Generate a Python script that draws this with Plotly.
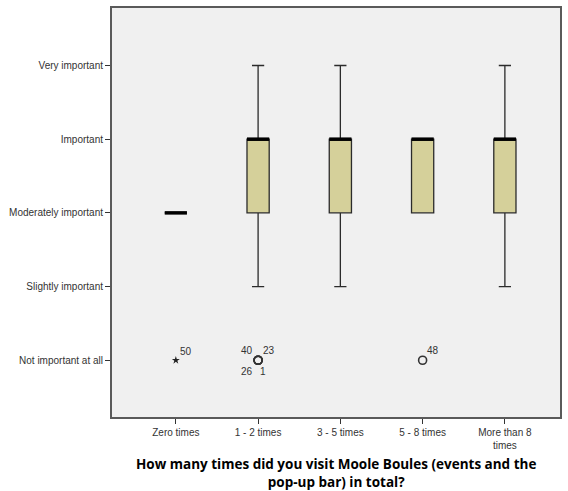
import plotly.graph_objects as go

# ---- data ----
categories = ["Zero times", "1 - 2 times", "3 - 5 times", "5 - 8 times", "More than 8<br>times"]
level_labels = ["Not important at all", "Slightly important", "Moderately important", "Important", "Very important"]
level_values = [1, 2, 3, 4, 5]

q1 = [3, 3, 3, 3, 3]
median = [3, 4, 4, 4, 4]
q3 = [3, 4, 4, 4, 4]
lower_whisker = [3, 2, 2, 3, 2]
upper_whisker = [3, 5, 5, 4, 5]

outlier_group = [1, 1, 1, 1, 3]
outlier_value = [1, 1, 1, 1, 1]
outlier_ids = ["40", "23", "26", "1", "48"]

extreme_group = [0]
extreme_value = [1]
extreme_ids = ["50"]

x_title = "How many times did you visit Moole Boules (events and the<br>pop-up bar) in total?"

# ---- styles ----
BOX_W = 0.27
xs = list(range(len(categories)))

fig = go.Figure()

fig.add_trace(go.Box(
    x=xs, q1=q1, median=median, q3=q3,
    lowerfence=lower_whisker, upperfence=upper_whisker,
    width=BOX_W, whiskerwidth=0.55,
    fillcolor="#d5d09a",
    line=dict(color="#2b2b2b", width=1.3),
    boxpoints=False, showlegend=False, hoverinfo="skip",
))

# thick median lines
mx, my = [], []
for i, m in zip(xs, median):
    mx += [i - BOX_W / 2, i + BOX_W / 2, None]
    my += [m, m, None]
fig.add_trace(go.Scatter(x=mx, y=my, mode="lines",
                         line=dict(color="#000000", width=3.5),
                         showlegend=False, hoverinfo="skip"))

# outliers (circles)
fig.add_trace(go.Scatter(x=outlier_group, y=outlier_value, mode="markers",
                         marker=dict(symbol="circle-open", size=8,
                                     color="#333333", line=dict(width=1.6)),
                         showlegend=False, hoverinfo="skip"))
# extremes (stars)
fig.add_trace(go.Scatter(x=extreme_group, y=extreme_value, mode="markers",
                         marker=dict(symbol="star", size=6, color="#222222"),
                         showlegend=False, hoverinfo="skip"))

# outlier id labels
annotations = []
groups = {}
for g, v, t in zip(outlier_group, outlier_value, outlier_ids):
    groups.setdefault((g, v), []).append(t)
offsets_multi = [(-11, 10), (11, 10), (-11, -11), (5, -11)]
for (g, v), ids in groups.items():
    offs = [(10, 10)] if len(ids) == 1 else offsets_multi
    for t, (dx, dy) in zip(ids, offs):
        annotations.append(dict(x=g, y=v, text=t, showarrow=False,
                                xshift=dx, yshift=dy,
                                font=dict(family="Liberation Sans, Arial", size=10, color="#333333")))
for g, v, t in zip(extreme_group, extreme_value, extreme_ids):
    annotations.append(dict(x=g, y=v, text=t, showarrow=False,
                            xshift=10, yshift=9,
                            font=dict(family="Liberation Sans, Arial", size=10, color="#333333")))

# axis title as annotation (placed below tick labels)
annotations.append(dict(x=0.5, y=-0.088, xref="paper", yref="paper",
                        xanchor="center", yanchor="top", showarrow=False,
                        text=x_title, align="center",
                        font=dict(family="Open Sans", size=13.5, color="#000000", weight="bold")))

fig.update_layout(
    width=568, height=491,
    margin=dict(l=112, r=7, t=6, b=74),
    paper_bgcolor="white",
    plot_bgcolor="#f0f0f0",
    annotations=annotations,
    font=dict(family="Liberation Sans, Arial", size=10, color="#222222"),
)
fig.update_xaxes(
    range=[-0.776, 4.67],
    tickmode="array", tickvals=xs, ticktext=categories,
    ticks="outside", ticklen=5, tickcolor="#333333", tickwidth=1,
    showline=True, linecolor="#5a5a5a", linewidth=2, mirror=True,
    showgrid=False, zeroline=False,
    tickfont=dict(size=10, color="#333333"),
)
fig.update_yaxes(
    range=[0.23, 5.78],
    tickmode="array", tickvals=level_values, ticktext=level_labels,
    ticks="outside", ticklen=5, tickcolor="#333333", tickwidth=1,
    showline=True, linecolor="#5a5a5a", linewidth=2, mirror=True,
    showgrid=False, zeroline=False,
    tickfont=dict(size=10, color="#333333"),
)

fig.write_html(
    "out.html",
    config={"displayModeBar": False},
    post_script="document.body.style.margin='0';document.body.style.overflow='hidden';",
)
